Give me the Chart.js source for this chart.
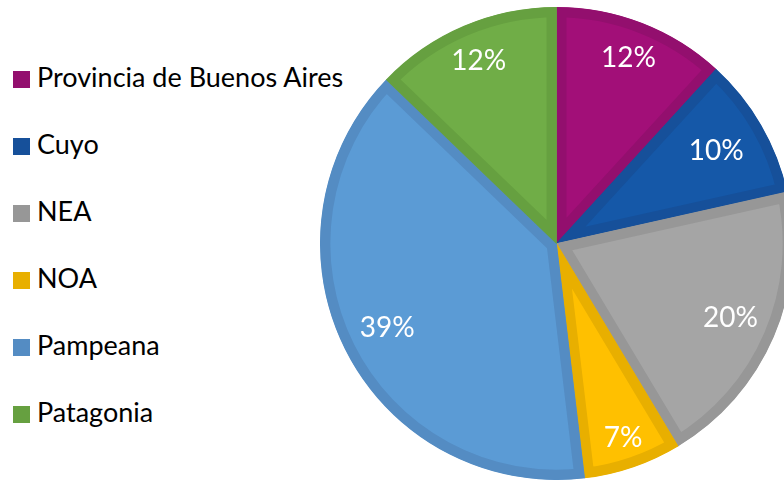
<!DOCTYPE html>
<html><head><meta charset="utf-8">
<script src="https://cdn.jsdelivr.net/npm/chart.js@4"></script>
<style>
html,body{margin:0;padding:0;width:784px;height:482px;overflow:hidden;background:#fff;}
#wrap{position:absolute;left:320px;top:7px;width:473px;height:473px;}
.lbox{position:absolute;left:13px;width:17px;height:17px;}
.ltxt{position:absolute;left:37px;height:30px;line-height:30px;font-family:Lato,'Noto Sans',sans-serif;font-size:27px;color:#000;white-space:nowrap;}
</style></head><body>
<div id="legend"></div>
<div id="wrap"><canvas id="c" width="473" height="473"></canvas></div>
<script>
const categories = ['Provincia de Buenos Aires','Cuyo','NEA','NOA','Pampeana','Patagonia'];
const shares = [11.8, 9.7, 19.9, 6.7, 39.1, 12.8];
const shareLabels = ['12%','10%','20%','7%','39%','12%'];
const fillColors = ['#A20F78','#1558A8','#A5A5A5','#FFC000','#5B9BD5','#70AD47'];
const edgeColors = ['#930F6E','#16509A','#979797','#E8AF00','#548CC3','#66A040'];
const labelRadius = [0.84,0.78,0.80,0.87,0.80,0.84];

// HTML legend
const legend = document.getElementById('legend');
categories.forEach((name,i)=>{
  const cy = 79.5 + 67*i;
  const b = document.createElement('div');
  b.className='lbox'; b.style.top=(cy-8.5)+'px'; b.style.background=edgeColors[i];
  legend.appendChild(b);
  const t = document.createElement('div');
  t.className='ltxt'; t.style.top=(cy-18)+'px'; t.textContent=name;
  legend.appendChild(t);
});

const pctPlugin = {
  id:'pct',
  afterDatasetsDraw(chart){
    const ctx = chart.ctx; const meta = chart.getDatasetMeta(0);
    ctx.save();
    ctx.font = '28px Lato'; ctx.fillStyle = '#fff';
    ctx.textAlign = 'center'; ctx.textBaseline = 'middle';
    meta.data.forEach((arc,i)=>{
      const p = arc.getProps(['x','y','startAngle','endAngle','outerRadius'], true);
      const a = (p.startAngle+p.endAngle)/2;
      const r = p.outerRadius*labelRadius[i];
      ctx.fillText(shareLabels[i], p.x+Math.cos(a)*r, p.y+Math.sin(a)*r);
    });
    ctx.restore();
  }
};

new Chart(document.getElementById('c'), {
  type:'pie',
  data:{ labels: categories, datasets:[{
    data: shares,
    backgroundColor: fillColors,
    borderColor: edgeColors,
    borderWidth: 10,
    borderAlign: 'inner',
    borderJoinStyle: 'miter'
  }]},
  options:{
    responsive:false, devicePixelRatio:1, animation:false,
    layout:{padding:0},
    plugins:{ legend:{display:false}, tooltip:{enabled:false} }
  },
  plugins:[pctPlugin]
});
</script>
</body></html>
